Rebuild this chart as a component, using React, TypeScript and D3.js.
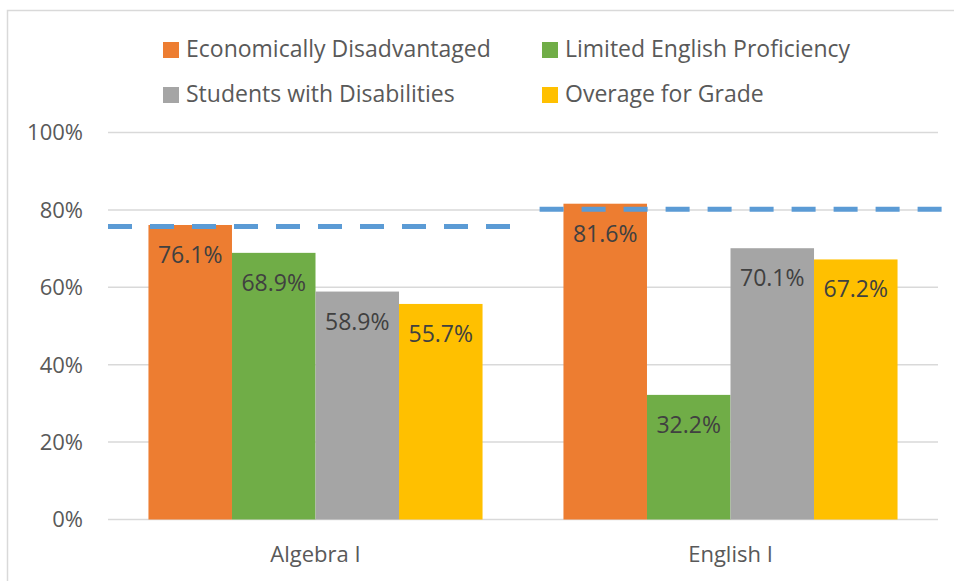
import React from 'react';
import * as d3 from 'd3';

// chart data
const categories = ['Algebra I', 'English I'];
const series = [
  'Economically Disadvantaged',
  'Limited English Proficiency',
  'Students with Disabilities',
  'Overage for Grade',
];
const colors = ['#ED7D31', '#70AD47', '#A5A5A5', '#FFC000'];
const values = [
  [76.1, 68.9, 58.9, 55.7], // Algebra I
  [81.6, 32.2, 70.1, 67.2], // English I
];
// dashed target line per category, extent in category units
const targets = [75.7, 80.2];
const targetFrom = [0, 1.04];
const targetTo = [0.97, 2.01];
const yTicks = [0, 20, 40, 60, 80, 100];

const W = 954;
const H = 581;
const margin = { left: 108, right: 16, top: 132.5, bottom: 61.5 };
const font = '"Open Sans", sans-serif';

export default function App() {
  const x0 = d3
    .scaleBand<string>()
    .domain(categories)
    .range([margin.left, W - margin.right]);
  const groupW = x0.bandwidth() * 0.805;
  const x1 = d3.scaleBand<string>().domain(series).range([0, groupW]);
  const xLin = d3.scaleLinear().domain([0, categories.length]).range([margin.left, W - margin.right]);
  const y = d3.scaleLinear().domain([0, 100]).range([H - margin.bottom, margin.top]);
  const fmt = (v: number) => v.toFixed(1) + '%';

  return (
    <svg width={W} height={H} style={{ position: 'absolute', left: 0, top: 0 }} fontFamily={font}>
      <rect x={0} y={0} width={W} height={H} fill="#fff" />
      <rect x={7.5} y={10.5} width={W + 20} height={H + 20} fill="none" stroke="#d9d9d9" strokeWidth={1.5} />

      {/* grid + y labels */}
      {yTicks.map((t) => (
        <g key={t}>
          <line x1={margin.left} x2={W - margin.right} y1={y(t)} y2={y(t)} stroke="#d9d9d9" strokeWidth={1.5} />
          <text x={83} y={y(t)} dy="0.36em" textAnchor="end" fontSize={22} fill="#595959">
            {t}%
          </text>
        </g>
      ))}

      {/* bars */}
      {categories.map((c, ci) => {
        const gx = x0(c)! + (x0.bandwidth() - groupW) / 2;
        return (
          <g key={c}>
            {series.map((s, si) => {
              const v = values[ci][si];
              const bx = gx + x1(s)!;
              return (
                <g key={s}>
                  <rect x={bx} y={y(v)} width={x1.bandwidth()} height={y(0) - y(v)} fill={colors[si]} />
                  <text
                    x={bx + x1.bandwidth() / 2}
                    y={y(v) + 38}
                    textAnchor="middle"
                    fontSize={23}
                    fill="#404040"
                  >
                    {fmt(v)}
                  </text>
                </g>
              );
            })}
            <text x={x0(c)! + x0.bandwidth() / 2} y={562} textAnchor="middle" fontSize={22} fill="#595959">
              {c}
            </text>
          </g>
        );
      })}

      {/* dashed target lines */}
      {targets.map((t, i) => (
        <line
          key={i}
          x1={xLin(targetFrom[i])}
          x2={xLin(targetTo[i])}
          y1={y(t)}
          y2={y(t)}
          stroke="#5B9BD5"
          strokeWidth={5}
          strokeDasharray="24,18"
        />
      ))}

      {/* legend */}
      {series.map((s, i) => {
        const lx = i % 2 === 0 ? 163 : 542;
        const ly = i < 2 ? 42 : 87;
        return (
          <g key={s}>
            <rect x={lx} y={ly} width={16} height={16} fill={colors[i]} />
            <text x={lx + 23} y={ly + 15} fontSize={23} fill="#595959">
              {s}
            </text>
          </g>
        );
      })}
    </svg>
  );
}
